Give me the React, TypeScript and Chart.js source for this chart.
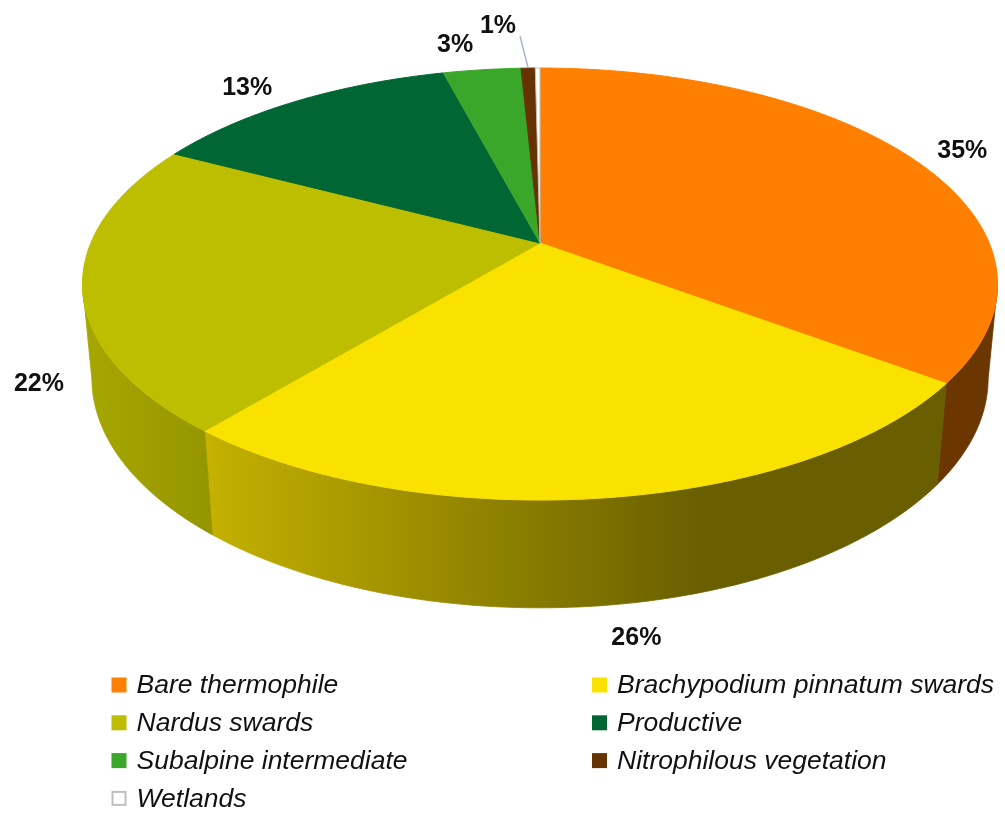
import React, { useEffect, useRef } from "react";
import { Chart, registerables } from "chart.js";

Chart.register(...registerables);

// ---------- data ----------
const categories = [
  "Bare thermophile",
  "Brachypodium pinnatum swards",
  "Nardus swards",
  "Productive",
  "Subalpine intermediate",
  "Nitrophilous vegetation",
  "Wetlands",
];
const shares = [35.2, 25.8, 21.7, 13.2, 3.3, 0.6, 0.2];
const sliceColors = ["#FF8000", "#F9E100", "#BEBE00", "#006633", "#3AA62A", "#663300", "#FFFFFF"];
const sliceBorders = ["#FF8000", "#F9E100", "#BEBE00", "#006633", "#3AA62A", "#663300", "#BFBFBF"];

// ---------- 3D look (style) ----------
const K = 0.19; // perspective factor
const AR = 2.246; // horizontal radius / chart radius
const BR = 1.041; // vertical radius / chart radius
const VY = 23.33; // vanishing point of vertical edges (below centre, in radii)
const LAM = 0.0198; // thickness
const SHADE_LEFT = 0.12;
const SHADE_RIGHT = 0.58;
const SHADE_KNEE = 0.675;

const LABEL_FONT = 'bold 25px "Liberation Sans", Arial, sans-serif';
const LEGEND_FONT = 'italic 26.5px "Liberation Sans", Arial, sans-serif';

function rgbOf(hex: string) {
  const n = parseInt(hex.slice(1), 16);
  return [(n >> 16) & 255, (n >> 8) & 255, n & 255];
}
function darken(hex: string, f: number) {
  const [r, g, b] = rgbOf(hex);
  return `rgb(${Math.round(r * (1 - f))},${Math.round(g * (1 - f))},${Math.round(b * (1 - f))})`;
}

function topPt(cx: number, cy: number, R: number, th: number, r = 1) {
  const u = Math.sin(th) * r;
  const v = Math.cos(th) * r;
  const w = 1 + K * v;
  return { x: cx + (AR * R * u) / w, y: cy - (BR * R * v) / w, w, u, v };
}
function botPt(cx: number, cy: number, R: number, th: number) {
  const p = topPt(cx, cy, R, th);
  const vx = cx;
  const vy = cy + VY * R;
  const t = LAM / p.w;
  return { x: p.x + (vx - p.x) * t, y: p.y + (vy - p.y) * t };
}

const pie3d = {
  id: "pie3d",
  beforeDatasetsDraw(chart: any) {
    const ctx: CanvasRenderingContext2D = chart.ctx;
    const meta = chart.getDatasetMeta(0);
    const arcs: any[] = meta.data;
    if (!arcs.length) return false;
    const cx = arcs[0].x;
    const cy = arcs[0].y;
    const R = arcs[0].outerRadius;
    const ds = chart.data.datasets[0];
    const front0 = Math.acos(-K);
    const front1 = 2 * Math.PI - front0;
    const half = (AR * R) / Math.sqrt(1 - K * K);
    const xL = cx - half;
    const xR = cx + half;
    ctx.save();
    // sides
    arcs.forEach((arc, i) => {
      const a0 = arc.startAngle + Math.PI / 2;
      const a1 = arc.endAngle + Math.PI / 2;
      const s = Math.max(a0, front0);
      const e = Math.min(a1, front1);
      if (e <= s) return;
      const n = Math.max(2, Math.ceil((e - s) / 0.01));
      const tops: any[] = [];
      const bots: any[] = [];
      for (let k = 0; k <= n; k++) {
        const th = s + ((e - s) * k) / n;
        tops.push(topPt(cx, cy, R, th));
        bots.push(botPt(cx, cy, R, th));
      }
      ctx.beginPath();
      ctx.moveTo(tops[0].x, tops[0].y);
      tops.forEach((p) => ctx.lineTo(p.x, p.y));
      for (let k = bots.length - 1; k >= 0; k--) ctx.lineTo(bots[k].x, bots[k].y);
      ctx.closePath();
      const c = ds.backgroundColor[i];
      const g = ctx.createLinearGradient(xL, 0, xR, 0);
      g.addColorStop(0, darken(c, SHADE_LEFT));
      g.addColorStop(SHADE_KNEE, darken(c, SHADE_RIGHT));
      g.addColorStop(1, darken(c, SHADE_RIGHT));
      ctx.fillStyle = g;
      ctx.fill();
      ctx.strokeStyle = g;
      ctx.lineWidth = 0.8;
      ctx.stroke();
    });
    // top faces
    arcs.forEach((arc, i) => {
      const a0 = arc.startAngle + Math.PI / 2;
      const a1 = arc.endAngle + Math.PI / 2;
      const n = Math.max(2, Math.ceil((a1 - a0) / 0.01));
      ctx.beginPath();
      ctx.moveTo(cx, cy);
      for (let k = 0; k <= n; k++) {
        const p = topPt(cx, cy, R, a0 + ((a1 - a0) * k) / n);
        ctx.lineTo(p.x, p.y);
      }
      ctx.closePath();
      ctx.fillStyle = ds.backgroundColor[i];
      ctx.fill();
      ctx.strokeStyle = ds.borderColor[i];
      ctx.lineWidth = 1;
      ctx.stroke();
    });
    ctx.restore();
    return false;
  },
  afterDraw(chart: any) {
    const ctx: CanvasRenderingContext2D = chart.ctx;
    const meta = chart.getDatasetMeta(0);
    const arcs: any[] = meta.data;
    if (!arcs.length) return;
    const cx = arcs[0].x;
    const cy = arcs[0].y;
    const R = arcs[0].outerRadius;
    const ds = chart.data.datasets[0];
    const vals: number[] = ds.data;
    const total = vals.reduce((a, b) => a + b, 0);
    ctx.save();
    // data labels
    ctx.font = LABEL_FONT;
    ctx.textAlign = "center";
    ctx.textBaseline = "middle";
    arcs.forEach((arc, i) => {
      const pct = Math.round((vals[i] / total) * 100);
      if (pct <= 0) return;
      const text = pct + "%";
      const mid = (arc.startAngle + arc.endAngle) / 2 + Math.PI / 2;
      const t = topPt(cx, cy, R, mid);
      const anchor = t.v < 0 ? botPt(cx, cy, R, mid) : { x: t.x, y: t.y };
      let dx = AR * t.u;
      let dy = -BR * t.v;
      const len = Math.hypot(dx, dy) || 1;
      dx /= len;
      dy /= len;
      const small = (vals[i] / total) * 100 < 1.5;
      const gapX = 28;
      const gapY = small ? 32 : t.v < 0 ? 24 : 16;
      const tw = ctx.measureText(text).width;
      const hh = 10;
      const boxShift = Math.abs(dx) > 0.1 ? Math.sign(dx) * (tw / 2) : (dx * tw) / 2;
      let lx = anchor.x + dx * gapX + boxShift;
      const ly = anchor.y + dy * gapY + dy * hh;
      if (small) {
        lx += (t.u < 0 ? -1 : 1) * 27;
        ctx.beginPath();
        ctx.moveTo(lx + (t.u < 0 ? 1 : -1) * (tw / 2 + 4), ly + hh);
        ctx.lineTo(anchor.x, anchor.y);
        ctx.strokeStyle = "#A6B6CC";
        ctx.lineWidth = 1.5;
        ctx.stroke();
      }
      ctx.fillStyle = "#111111";
      ctx.fillText(text, lx, ly);
    });
    // legend
    const colX = [111.5, 592];
    const row0 = 685;
    const rowStep = 37.8;
    const box = 15;
    ctx.font = LEGEND_FONT;
    ctx.textAlign = "left";
    ctx.textBaseline = "middle";
    (chart.data.labels as string[]).forEach((lab, i) => {
      const col = i % 2;
      const row = Math.floor(i / 2);
      const bx = colX[col];
      const y = row0 + row * rowStep;
      const fill = ds.backgroundColor[i];
      const border = ds.borderColor[i];
      ctx.fillStyle = fill;
      ctx.fillRect(bx, y - box / 2, box, box);
      if (border !== fill) {
        ctx.strokeStyle = border;
        ctx.lineWidth = 2;
        ctx.strokeRect(bx + 1, y - box / 2 + 1, box - 2, box - 2);
      }
      ctx.fillStyle = "#111111";
      ctx.fillText(lab, bx + 25, y + 1);
    });
    ctx.restore();
  },
};

export default function App() {
  const ref = useRef<HTMLCanvasElement | null>(null);
  useEffect(() => {
    document.body.style.margin = "0";
    const canvas = ref.current;
    if (!canvas) return;
    const chart = new Chart(canvas, {
      type: "pie",
      data: {
        labels: categories,
        datasets: [
          {
            data: shares,
            backgroundColor: sliceColors,
            borderColor: sliceBorders,
            borderWidth: 0,
          },
        ],
      },
      options: {
        responsive: false,
        animation: false,
        events: [],
        layout: { padding: { left: 340, right: 265, top: 43, bottom: 371 } },
        plugins: {
          legend: { display: false },
          tooltip: { enabled: false },
        },
      },
      plugins: [pie3d as any],
    });
    return () => chart.destroy();
  }, []);
  return (
    <div style={{ width: 1005, height: 814, position: "relative", background: "#fff" }}>
      <canvas ref={ref} width={1005} height={814} style={{ display: "block" }} />
    </div>
  );
}
